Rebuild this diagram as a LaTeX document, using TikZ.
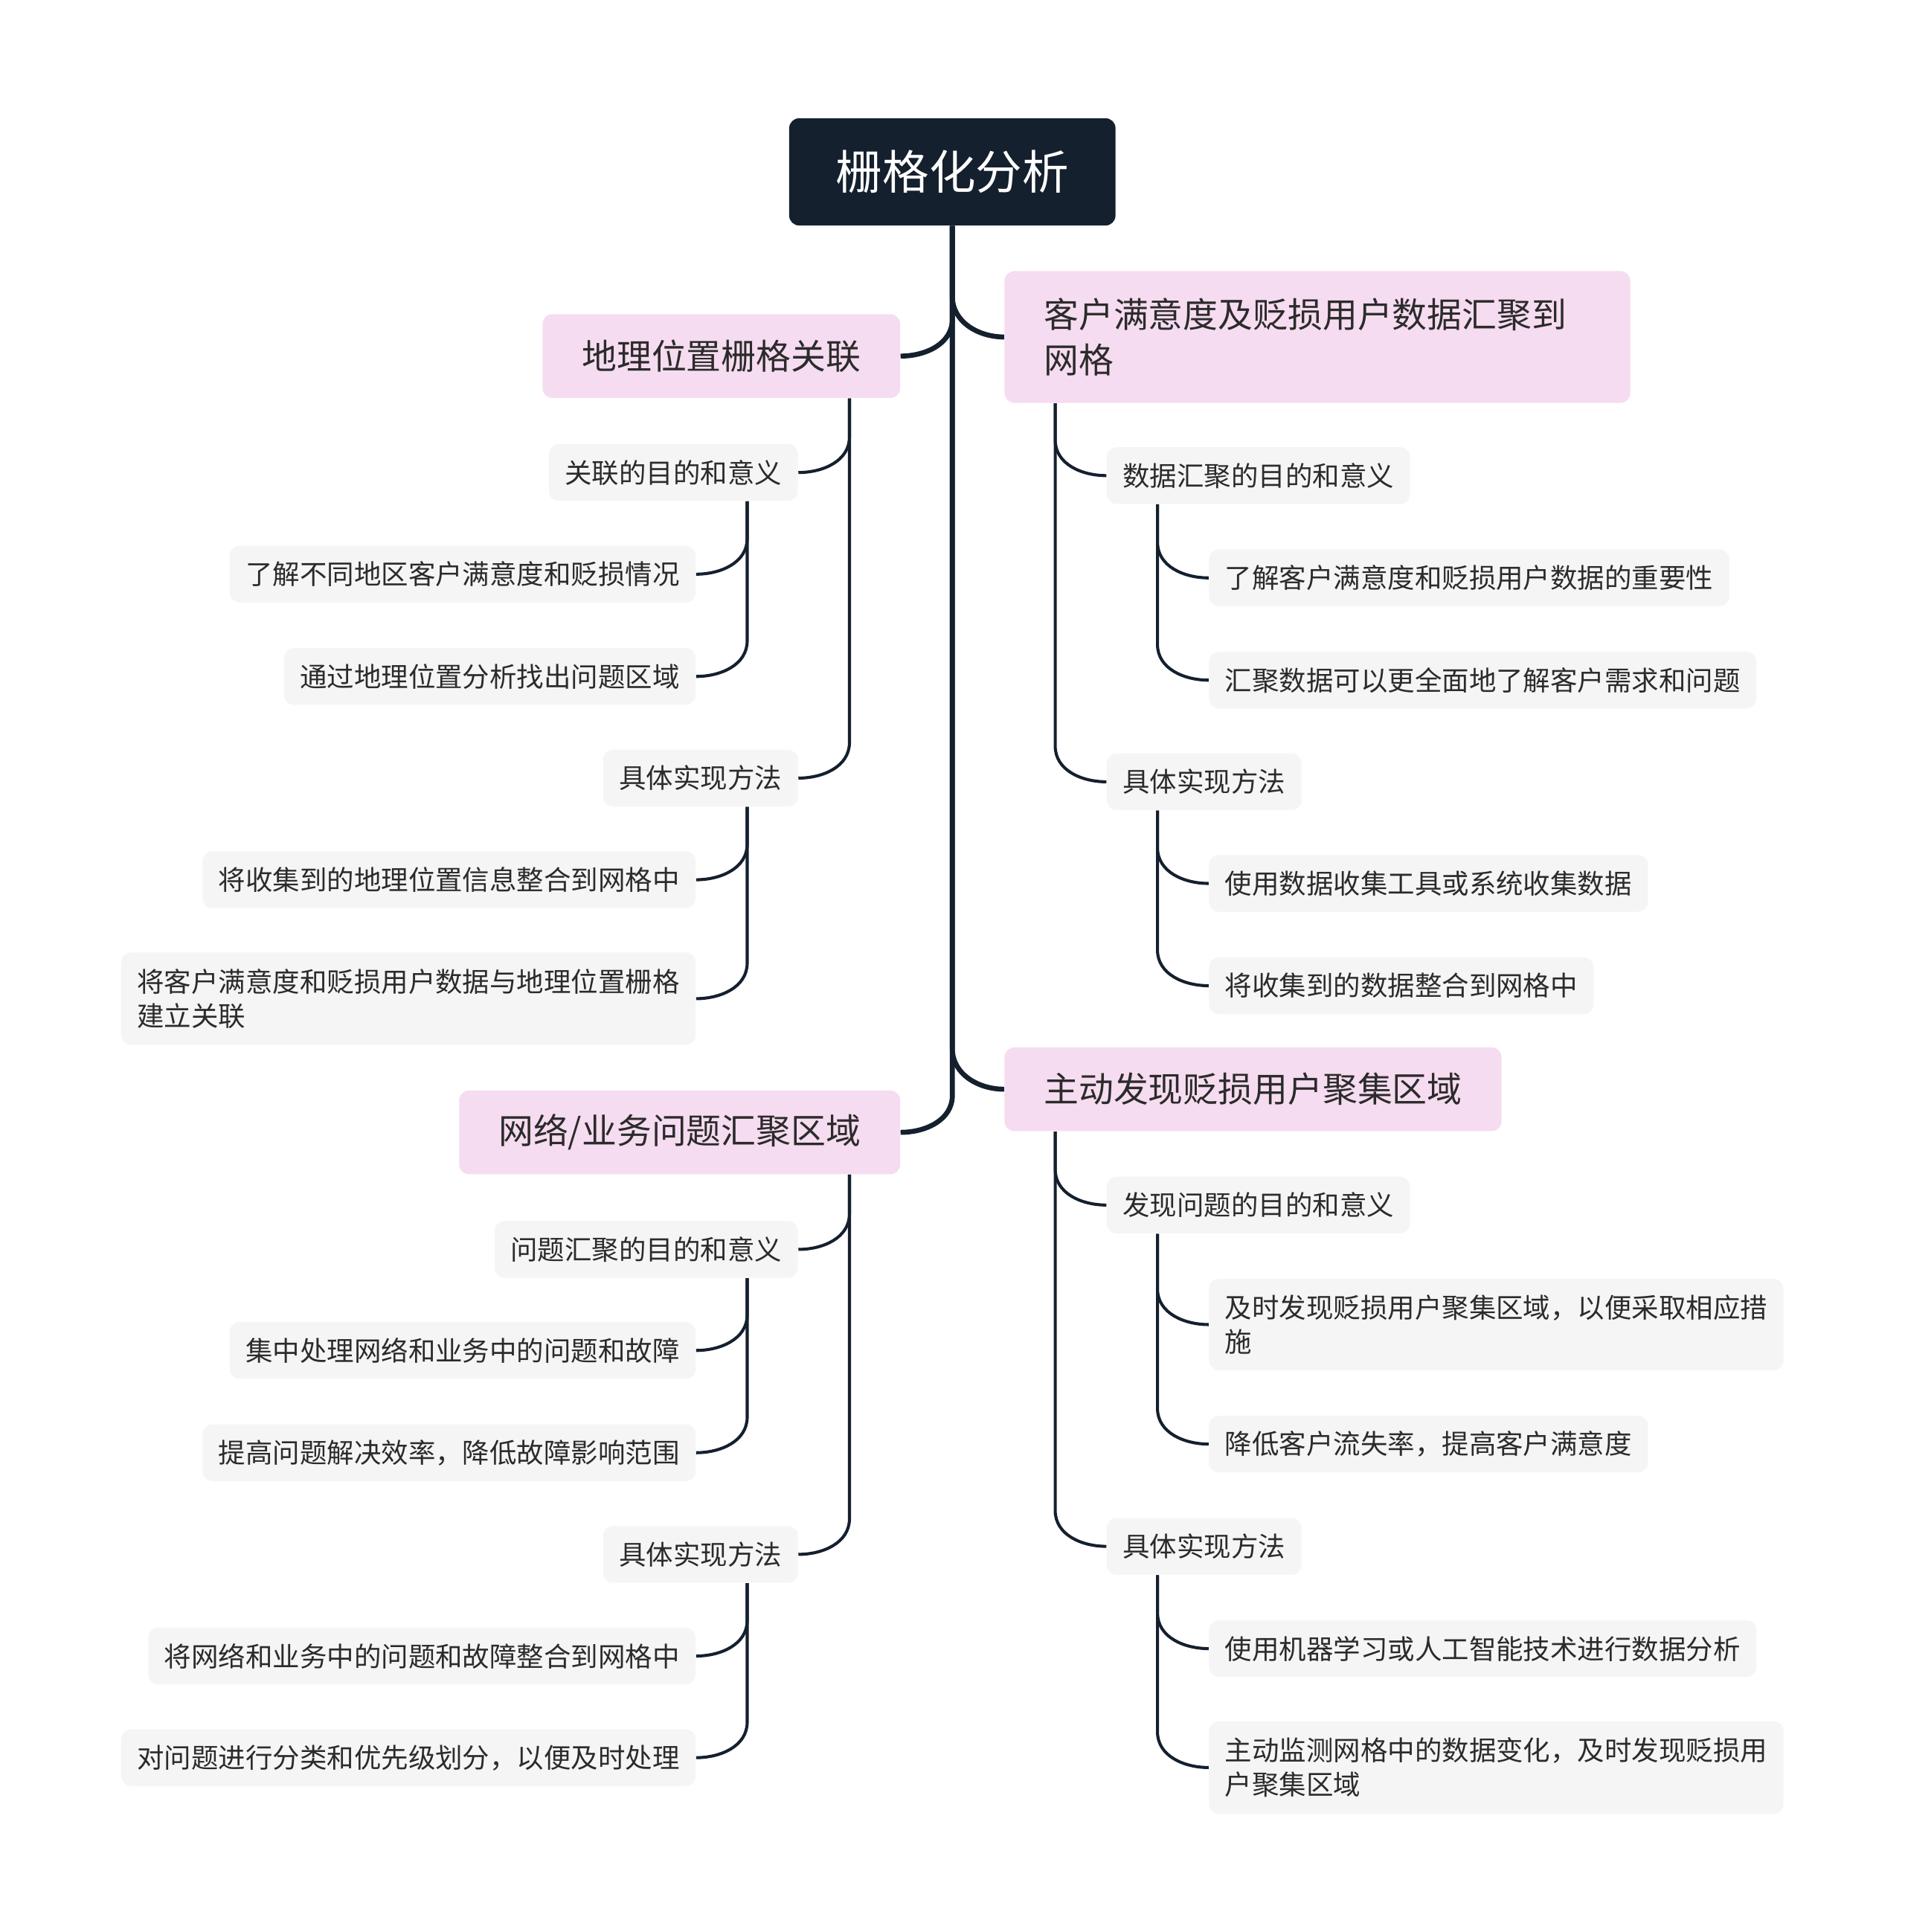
\documentclass[tikz,border=0pt]{standalone}
\usepackage{fontspec}
\setmainfont{Noto Sans CJK SC}
\usetikzlibrary{calc}
\definecolor{navy}{HTML}{15202E}
\definecolor{topicpink}{HTML}{F6DCF0}
\definecolor{leafgray}{HTML}{F5F5F5}
\definecolor{inkgray}{HTML}{2B2B2B}

\begin{document}
\begin{tikzpicture}[
    x=0.02cm, y=-0.02cm,
    rootbox/.style={fill=navy, rounded corners=0.16cm, text=white, font=\fontsize{21.5}{26}\selectfont, inner xsep=0.76cm, inner ysep=0pt, minimum height=1.74cm},
    topic/.style={fill=topicpink, rounded corners=0.16cm, text=inkgray, font=\fontsize{16.1}{21}\selectfont, inner xsep=0.64cm, inner ysep=0pt, minimum height=1.36cm, align=left},
    leaf/.style={fill=leafgray, rounded corners=0.16cm, text=inkgray, font=\fontsize{12.53}{15.9}\selectfont, inner xsep=0.26cm, inner ysep=0pt, minimum height=0.92cm, align=left},
    trunk/.style={draw=navy, line width=2.3pt},
    twig/.style={draw=navy, line width=1.4pt}
]
\def\xSpine{773}
\def\xLeftA{731}
\def\xLeftB{648}
\def\xLeftC{565}
\def\xRightA{815}
\def\xRightB{898}
\def\xRightC{981}
\def\dx{41.5}
\def\drop{29}

% Page
\fill[white] (0,0) rectangle (1546,1568);
\useasboundingbox (0,0) rectangle (1546,1568);

% Root
\node[rootbox] (root) at (\xSpine, 139.5) {栅格化分析};

% Main topics
\node[topic, anchor=east] (geo)  at (\xLeftA, 289) {地理位置栅格关联};
\node[topic, anchor=west, text width=8.88cm, minimum height=2.14cm] (sat) at (\xRightA, 273.5) {客户满意度及贬损用户数据汇聚到\\网格};
\node[topic, anchor=east] (net)  at (\xLeftA, 919) {网络/业务问题汇聚区域};
\node[topic, anchor=west] (find) at (\xRightA, 884) {主动发现贬损用户聚集区域};

% --- Left: geo ---
\node[leaf, anchor=east] (geoaim)  at (\xLeftB, 383.5) {关联的目的和意义};
\node[leaf, anchor=east] (geoaimA) at (\xLeftC, 466)   {了解不同地区客户满意度和贬损情况};
\node[leaf, anchor=east] (geoaimB) at (\xLeftC, 549)   {通过地理位置分析找出问题区域};
\node[leaf, anchor=east] (geohow)  at (\xLeftB, 631.5) {具体实现方法};
\node[leaf, anchor=east] (geohowA) at (\xLeftC, 714)   {将收集到的地理位置信息整合到网格中};
\node[leaf, anchor=east, minimum height=1.5cm] (geohowB) at (\xLeftC, 810.5) {将客户满意度和贬损用户数据与地理位置栅格\\建立关联};

% --- Left: net ---
\node[leaf, anchor=east] (netaim)  at (\xLeftB, 1014)   {问题汇聚的目的和意义};
\node[leaf, anchor=east] (netaimA) at (\xLeftC, 1096)   {集中处理网络和业务中的问题和故障};
\node[leaf, anchor=east] (netaimB) at (\xLeftC, 1179)   {提高问题解决效率，降低故障影响范围};
\node[leaf, anchor=east] (nethow)  at (\xLeftB, 1261.5) {具体实现方法};
\node[leaf, anchor=east] (nethowA) at (\xLeftC, 1344)   {将网络和业务中的问题和故障整合到网格中};
\node[leaf, anchor=east] (nethowB) at (\xLeftC, 1426.5) {对问题进行分类和优先级划分，以便及时处理};

% --- Right: sat ---
\node[leaf, anchor=west] (sataim)  at (\xRightB, 386)   {数据汇聚的目的和意义};
\node[leaf, anchor=west] (sataimA) at (\xRightC, 469)   {了解客户满意度和贬损用户数据的重要性};
\node[leaf, anchor=west] (sataimB) at (\xRightC, 552)   {汇聚数据可以更全面地了解客户需求和问题};
\node[leaf, anchor=west] (sathow)  at (\xRightB, 634.5) {具体实现方法};
\node[leaf, anchor=west] (sathowA) at (\xRightC, 717)   {使用数据收集工具或系统收集数据};
\node[leaf, anchor=west] (sathowB) at (\xRightC, 800)   {将收集到的数据整合到网格中};

% --- Right: find ---
\node[leaf, anchor=west] (findaim)  at (\xRightB, 978)  {发现问题的目的和意义};
\node[leaf, anchor=west, minimum height=1.48cm] (findaimA) at (\xRightC, 1075) {及时发现贬损用户聚集区域，以便采取相应措\\施};
\node[leaf, anchor=west] (findaimB) at (\xRightC, 1172) {降低客户流失率，提高客户满意度};
\node[leaf, anchor=west] (findhow)  at (\xRightB, 1255) {具体实现方法};
\node[leaf, anchor=west] (findhowA) at (\xRightC, 1338) {使用机器学习或人工智能技术进行数据分析};
\node[leaf, anchor=west, minimum height=1.5cm] (findhowB) at (\xRightC, 1434.5) {主动监测网格中的数据变化，及时发现贬损用\\户聚集区域};

% Trunk: root to main topics
\foreach \kid in {geo, net}
    \draw[trunk] (root.south) -- ($(\kid.east)+(42,-30)$) to[out=-90, in=0] (\kid.east);
\foreach \kid in {sat, find}
    \draw[trunk] (root.south) -- ($(\kid.west)+(-42,-33)$) to[out=-90, in=180] (\kid.west);

% Left twigs
\foreach \up/\kid in {geo/geoaim, geo/geohow, geoaim/geoaimA, geoaim/geoaimB, geohow/geohowA, geohow/geohowB,
                      net/netaim, net/nethow, netaim/netaimA, netaim/netaimB, nethow/nethowA, nethow/nethowB}
    \draw[twig] ($(\up.south east)+(-\dx,0)$) -- ($(\kid.east)+(\dx,-\drop)$) to[out=-90, in=0] (\kid.east);

% Right twigs
\foreach \up/\kid in {sat/sataim, sat/sathow, sataim/sataimA, sataim/sataimB, sathow/sathowA, sathow/sathowB,
                      find/findaim, find/findhow, findaim/findaimA, findaim/findaimB, findhow/findhowA, findhow/findhowB}
    \draw[twig] ($(\up.south west)+(\dx,0)$) -- ($(\kid.west)+(-\dx,-\drop)$) to[out=-90, in=180] (\kid.west);

\end{tikzpicture}
\end{document}
